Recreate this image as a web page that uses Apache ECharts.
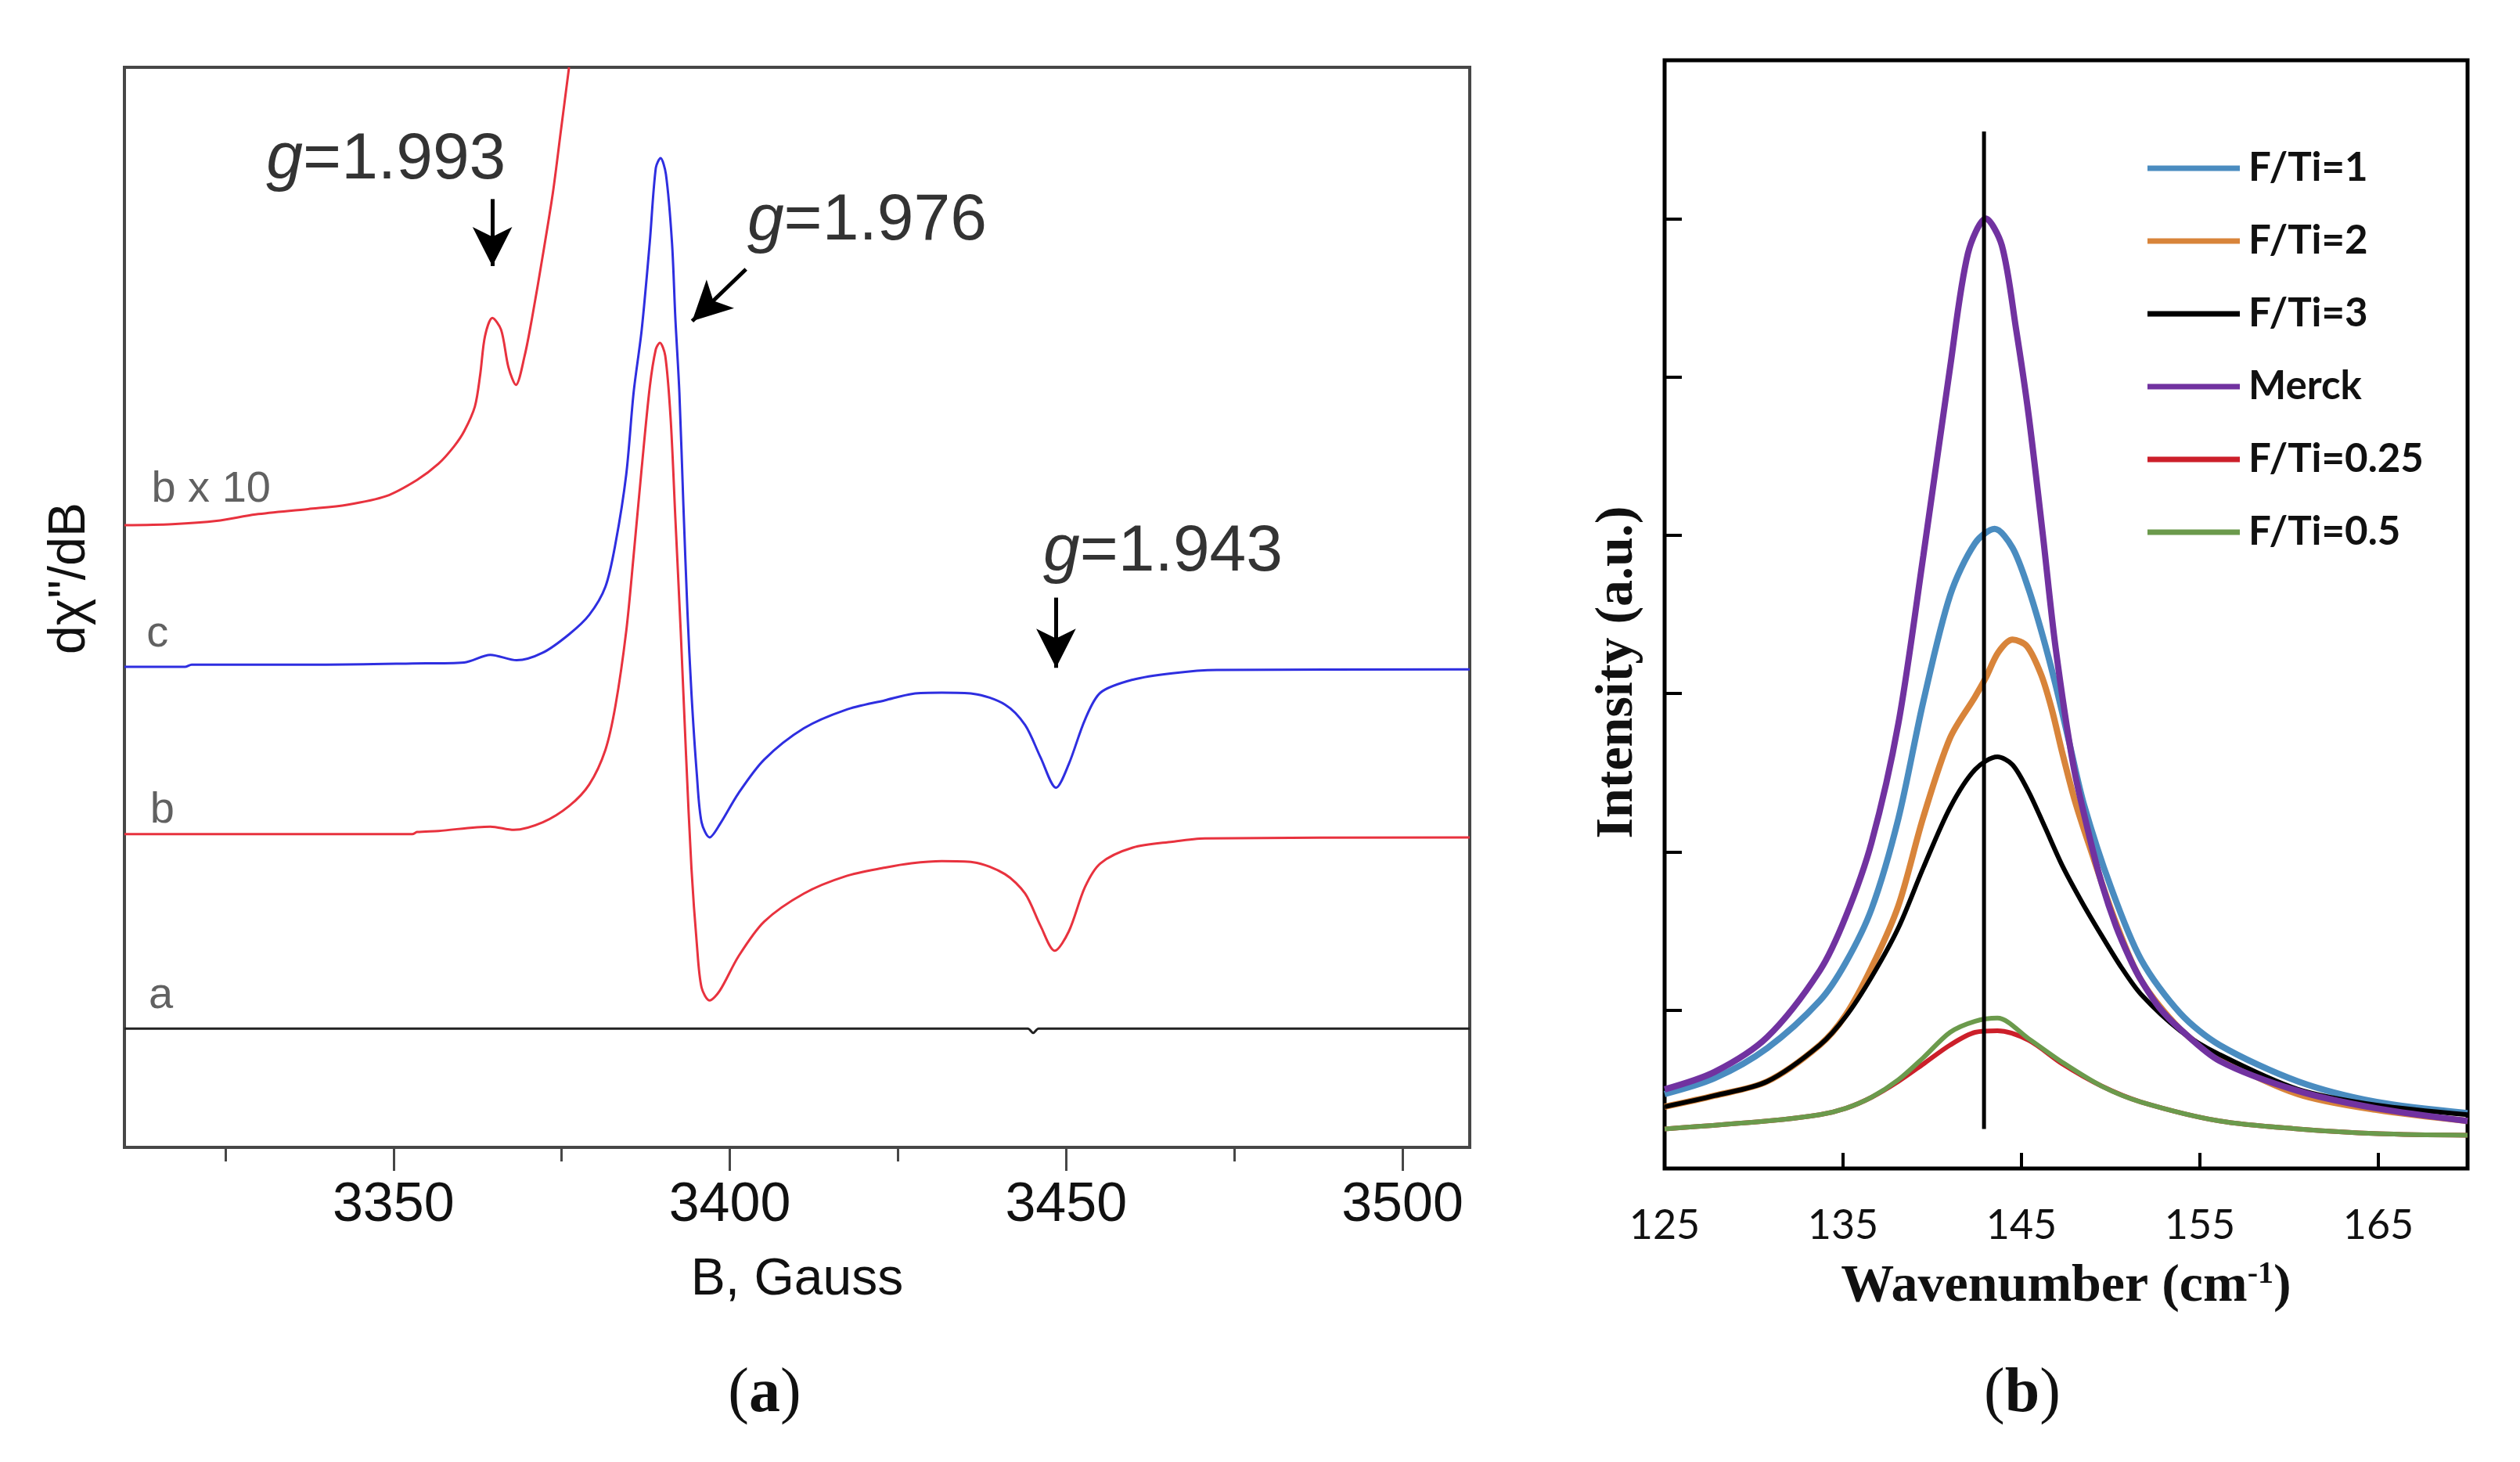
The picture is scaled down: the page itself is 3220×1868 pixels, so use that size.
<!DOCTYPE html>
<html>
<head>
<meta charset="utf-8">
<title>EPR and Raman spectra</title>
<script src="https://cdn.jsdelivr.net/npm/echarts@6/dist/echarts.min.js"></script>
<style>
  html, body { margin: 0; padding: 0; background: #fff; }
  #app { width: 3220px; height: 1868px; }
</style>
</head>
<body>
<div id="app"></div>
<script>
// ---- (a) EPR spectra: [B (Gauss), signal in offset units 0..100] ----
const eprTicks = [3350, 3400, 3450, 3500];
const eprMinorTicks = [3325, 3375, 3425, 3475];

const eprBx10 = [
  [3310, 57.6], [3317.1, 57.7], [3323.7, 58.0], [3329.5, 58.6], [3337.3, 59.1],
  [3343.1, 59.5], [3348.9, 60.3], [3353.5, 61.8], [3356.7, 63.3], [3359.0, 64.9],
  [3360.5, 66.3], [3362.1, 68.6], [3362.9, 71.6], [3363.6, 75.1], [3364.7, 76.8],
  [3366.0, 75.7], [3367.1, 72.2], [3368.2, 70.6], [3369.5, 73.3], [3370.6, 76.8],
  [3372.2, 82.6], [3373.7, 88.4], [3374.9, 94.2], [3376.1, 100]
];

const eprC = [
  [3310, 44.5], [3319, 44.5], [3320, 44.7], [3340, 44.7], [3352.8, 44.8],
  [3360.5, 44.9], [3364.4, 45.6], [3368.3, 45.1], [3372.2, 45.8], [3376.1, 47.5],
  [3379.1, 49.3], [3381.5, 51.9], [3383.0, 55.9], [3384.6, 62.3], [3385.7, 69.9],
  [3386.9, 75.7], [3388.1, 83.8], [3389.0, 90.7], [3389.7, 91.6], [3390.5, 90.1],
  [3391.4, 83.8], [3391.9, 76.8], [3392.5, 69.9], [3393.1, 59.4], [3393.7, 49.6],
  [3394.3, 42.0], [3395.1, 34.5], [3395.8, 30.1], [3397.0, 28.7], [3398.5, 29.9],
  [3401.3, 32.8], [3405.1, 35.9], [3411.0, 38.8], [3417.2, 40.5], [3423.1, 41.4],
  [3427.2, 42.0], [3431.5, 42.1], [3436.2, 42.0], [3440.9, 41.0], [3443.9, 39.1], [3446.2, 36.1],
  [3448.5, 33.3], [3450.4, 35.5], [3452.8, 39.6], [3455.1, 42.1], [3459.9, 43.3],
  [3465.8, 43.9], [3472.4, 44.2], [3510, 44.25]
];

const eprB = [
  [3310, 29.0], [3352.8, 29.0], [3353.5, 29.2], [3356.7, 29.3], [3364.4, 29.7],
  [3367.9, 29.4], [3372.2, 30.1], [3376.1, 31.6], [3379.1, 33.6], [3381.5, 36.8],
  [3383.0, 40.9], [3384.6, 47.8], [3385.7, 54.8], [3386.9, 62.9], [3388.1, 70.4],
  [3389.0, 73.9], [3389.6, 74.5], [3390.4, 73.3], [3391.2, 67.5], [3391.9, 58.3],
  [3392.7, 47.8], [3393.5, 36.2], [3394.3, 25.8], [3395.1, 18.8], [3395.8, 14.8],
  [3397.0, 13.6], [3398.5, 14.5], [3401.3, 17.7], [3405.1, 20.9], [3411.0, 23.5],
  [3417.2, 25.1], [3423.1, 25.9], [3427.0, 26.3], [3431.5, 26.5], [3436.2, 26.4], [3440.9, 25.3],
  [3443.9, 23.5], [3446.2, 20.5], [3448.3, 18.2], [3450.4, 20.0], [3452.8, 24.1],
  [3455.1, 26.3], [3459.9, 27.75], [3465.8, 28.3], [3470.6, 28.6], [3510, 28.7]
];

const eprA = [[3310, 11.0], [3444.3, 11.0], [3445.1, 10.6], [3445.9, 11.0], [3510, 11.0]];

// curve letters and g-value annotations, in data coordinates
const eprCurveLabels = [['b x 10', 3314.0, 60.9], ['c', 3313.3, 47.5], ['b', 3313.8, 31.2], ['a', 3313.6, 14.0]];
const gLabels = [['1.993', 3331.1, 91.4], ['1.976', 3402.6, 85.7], ['1.943', 3446.6, 55.1]];
const gArrows = [
  [[3364.7, 87.8], [3364.7, 81.6]],
  [[3402.4, 81.3], [3394.4, 76.5]],
  [[3448.5, 50.9], [3448.5, 44.4]]
];

// ---- (b) Raman spectra: [wavenumber (cm-1), intensity a.u.] ----
const ramanTicks = [135, 145, 155, 165];
const ramanLabels = [125, 135, 145, 155, 165];
const ramanYTicks = [1, 2, 3, 4, 5, 6];

const ftI1 = [
  [125, 0.47], [127.8, 0.57], [130.75, 0.76], [133.7, 1.06], [135.15, 1.30], [136.6, 1.64],
  [138.1, 2.21], [139.5, 2.95], [141.0, 3.62], [142.4, 3.95], [143.5, 4.04], [144.5, 3.92],
  [145.4, 3.66], [146.2, 3.36], [146.9, 3.06], [147.7, 2.68], [148.5, 2.30], [150, 1.78], [151.7, 1.32],
  [153.9, 0.98], [156.1, 0.78], [160.5, 0.55], [164.9, 0.42], [170, 0.35]
];
const ftI2 = [
  [125, 0.39], [127.8, 0.46], [130.75, 0.55], [133.7, 0.78], [135.15, 0.97], [136.6, 1.27],
  [138.1, 1.66], [139.5, 2.22], [141.0, 2.72], [142.4, 2.98], [143.0, 3.10], [143.7, 3.26],
  [144.5, 3.34], [145.3, 3.30], [146.1, 3.12], [146.7, 2.90], [147.3, 2.62], [148.0, 2.32], [148.8, 2.04], [150.3, 1.55],
  [151.7, 1.19], [153.9, 0.88], [156.1, 0.70], [160.5, 0.47], [164.9, 0.37], [170, 0.30]
];
const ftI3 = [
  [125, 0.39], [127.8, 0.46], [130.75, 0.55], [133.7, 0.78], [135.15, 0.96], [136.6, 1.21],
  [138.1, 1.52], [139.5, 1.90], [141.0, 2.28], [142.4, 2.52], [143.65, 2.60], [144.5, 2.55],
  [145.4, 2.38], [146.3, 2.16], [147.3, 1.91], [148.4, 1.68], [149.5, 1.47], [150.6, 1.27], [151.7, 1.10], [153.9, 0.87],
  [156.1, 0.72], [160.5, 0.50], [164.9, 0.40], [170, 0.34]
];
const merck = [
  [125, 0.50], [127.8, 0.61], [130.75, 0.83], [133.7, 1.25], [135.15, 1.59], [136.6, 2.06],
  [138.1, 2.81], [139.5, 3.87], [141.0, 5.06], [142.0, 5.78], [143.0, 6.00], [143.9, 5.83],
  [144.7, 5.30], [145.4, 4.76], [146.2, 4.00], [146.9, 3.30], [147.9, 2.55], [148.8, 2.10],
  [149.5, 1.80], [150.3, 1.53], [151.1, 1.32], [151.7, 1.19], [152.7, 1.02], [153.9, 0.88],
  [156.1, 0.68], [160.5, 0.49], [164.9, 0.38], [170, 0.30]
];
const ftI025 = [
  [125, 0.25], [130.75, 0.30], [133.7, 0.34], [135.15, 0.38], [136.6, 0.45], [138.1, 0.55],
  [139.5, 0.66], [141.0, 0.78], [142.4, 0.86], [143.65, 0.87], [145.4, 0.81], [147.3, 0.66],
  [149.5, 0.52], [151.7, 0.42], [156.1, 0.30], [160.5, 0.25], [165, 0.22], [170, 0.21]
];
const ftI05 = [
  [125, 0.25], [130.75, 0.30], [133.7, 0.34], [135.15, 0.38], [136.6, 0.45], [138.1, 0.56],
  [139.5, 0.70], [141.0, 0.86], [142.4, 0.93], [143.65, 0.95], [145.4, 0.82], [147.3, 0.67],
  [149.5, 0.52], [151.7, 0.42], [156.1, 0.30], [160.5, 0.25], [165, 0.22], [170, 0.21]
];
const refLine = [[142.9, 0.25], [142.9, 6.55]];

const ramanNames = ['F/Ti=1', 'F/Ti=2', 'F/Ti=3', 'Merck', 'F/Ti=0.25', 'F/Ti=0.5'];
const ramanData = [ftI1, ftI2, ftI3, merck, ftI025, ftI05];
const ramanColors = ['#4a8cc0', '#d8843a', '#000000', '#7132a0', '#cc1f2a', '#6b9a4c'];
const ramanWidths = [8, 8, 6, 8, 6, 6];

const RED = '#e8323e';
const BLUE = '#2e2ee0';
const SANS = 'Liberation Sans';
const SERIF = 'Liberation Serif';

const eprLine = (name, data, color) => ({
  name, type: 'line', xAxisIndex: 0, yAxisIndex: 0, data,
  symbol: 'none', smooth: 0.3, silent: true,
  lineStyle: { color, width: 3 }, itemStyle: { color }
});

const option = {
  animation: false,
  backgroundColor: '#fff',
  grid: [
    { left: 159, top: 86, width: 1719, height: 1380, show: true, borderColor: '#474747', borderWidth: 4 },
    { left: 2127, top: 77, width: 1026, height: 1416, show: true, borderColor: '#000', borderWidth: 5 }
  ],
  legend: {
    data: ramanNames,
    orient: 'vertical',
    left: 2739,
    top: 180,
    icon: 'rect',
    itemWidth: 118,
    itemHeight: 7,
    itemGap: 33,
    selectedMode: false,
    textStyle: { fontFamily: 'Lato', fontWeight: 'bold', fontSize: 51, lineHeight: 60, color: '#111', padding: [0, 0, 0, 6] }
  },
  xAxis: [
    {
      gridIndex: 0, type: 'value', min: 3310, max: 3510,
      axisLine: { show: true, onZero: false, lineStyle: { color: '#474747', width: 4 } },
      axisTick: { show: true, customValues: eprTicks, length: 30, lineStyle: { color: '#474747', width: 3 } },
      axisLabel: { customValues: eprTicks, formatter: v => String(v), margin: 40, fontSize: 70, fontFamily: SANS, color: '#111' },
      splitLine: { show: false },
      name: 'B, Gauss', nameLocation: 'middle', nameGap: 137,
      nameTextStyle: { fontSize: 66, fontFamily: SANS, color: '#111' }
    },
    {
      gridIndex: 0, type: 'value', min: 3310, max: 3510, position: 'bottom',
      axisLine: { show: false },
      axisTick: { show: true, customValues: eprMinorTicks, length: 18, lineStyle: { color: '#474747', width: 3 } },
      axisLabel: { show: false },
      splitLine: { show: false }
    },
    {
      gridIndex: 1, type: 'value', min: 125, max: 170,
      axisLine: { show: false },
      axisTick: { show: true, inside: true, customValues: ramanTicks, length: 20, lineStyle: { color: '#000', width: 4 } },
      axisLabel: { customValues: ramanLabels, formatter: v => String(v), margin: 47, fontSize: 52, fontFamily: 'Lato', color: '#111' },
      splitLine: { show: false },
      name: 'Wavenumber (cm{sup|-1})', nameLocation: 'middle', nameGap: 116,
      nameTextStyle: {
        fontSize: 68, fontFamily: SERIF, fontWeight: 'bold', color: '#111',
        rich: { sup: { fontSize: 40, fontFamily: SERIF, fontWeight: 'bold', color: '#111', verticalAlign: 'top', padding: [0, 0, 30, 0] } }
      }
    }
  ],
  yAxis: [
    {
      gridIndex: 0, type: 'value', min: 0, max: 100,
      axisLine: { show: false }, axisTick: { show: false }, axisLabel: { show: false }, splitLine: { show: false }
    },
    {
      gridIndex: 1, type: 'value', min: 0, max: 7,
      axisLine: { show: false },
      axisTick: { show: true, inside: true, customValues: ramanYTicks, length: 22, lineStyle: { color: '#000', width: 4 } },
      axisLabel: { show: false }, splitLine: { show: false }
    }
  ],
  series: [
    eprLine('b x 10', eprBx10, RED),
    eprLine('c', eprC, BLUE),
    eprLine('b', eprB, RED),
    eprLine('a', eprA, '#222'),
    {
      type: 'scatter', xAxisIndex: 0, yAxisIndex: 0, silent: true, symbolSize: 0,
      itemStyle: { color: 'rgba(0,0,0,0)' },
      data: eprCurveLabels.map(([t, x, y]) => ({ name: t, value: [x, y] })),
      label: { show: true, position: 'right', distance: 0, formatter: '{b}', fontSize: 56, fontFamily: SANS, color: '#3a3a3a' }
    },
    {
      type: 'scatter', xAxisIndex: 0, yAxisIndex: 0, silent: true, symbolSize: 0,
      itemStyle: { color: 'rgba(0,0,0,0)' },
      data: gLabels.map(([t, x, y]) => ({ name: t, value: [x, y] })),
      label: {
        show: true, position: 'right', distance: 0, color: '#000', fontSize: 84, fontFamily: SANS,
        formatter: p => '{i|g}{n|=' + p.name + '}',
        rich: {
          i: { fontStyle: 'italic', fontSize: 84, fontFamily: SANS, color: '#000' },
          n: { fontSize: 84, fontFamily: SANS, color: '#000' }
        }
      },
      markLine: {
        silent: true,
        symbol: ['none', 'arrow'],
        symbolSize: [38, 50],
        lineStyle: { color: '#000', width: 5, type: 'solid' },
        label: { show: false },
        data: gArrows.map(([p, q]) => [{ coord: p }, { coord: q }])
      }
    },
    ...ramanNames.map((name, i) => ({
      name, type: 'line', xAxisIndex: 2, yAxisIndex: 1, data: ramanData[i],
      symbol: 'none', smooth: 0.3, silent: true,
      lineStyle: { color: ramanColors[i], width: ramanWidths[i] },
      itemStyle: { color: ramanColors[i] }
    })),
    {
      type: 'line', xAxisIndex: 2, yAxisIndex: 1, data: refLine, symbol: 'none', silent: true,
      lineStyle: { color: '#000', width: 5 }, itemStyle: { color: '#000' }
    }
  ],
  graphic: [
    {
      type: 'text', x: 90, y: 739, rotation: Math.PI / 2,
      style: { text: 'dχ"/dB', font: '66px "Liberation Sans"', fill: '#111', align: 'center', verticalAlign: 'middle' }
    },
    {
      type: 'text', x: 2067, y: 859, rotation: Math.PI / 2,
      style: { text: 'Intensity (a.u.)', font: 'bold 68px "Liberation Serif"', fill: '#111', align: 'center', verticalAlign: 'middle' }
    },
    {
      type: 'text', x: 977, y: 1782,
      style: {
        text: '{p|(}{b|a}{p|)}', align: 'center', verticalAlign: 'middle',
        rich: {
          p: { font: '80px "Liberation Serif"', fill: '#111' },
          b: { font: 'bold 80px "Liberation Serif"', fill: '#111' }
        }
      }
    },
    {
      type: 'text', x: 2584, y: 1782,
      style: {
        text: '{p|(}{b|b}{p|)}', align: 'center', verticalAlign: 'middle',
        rich: {
          p: { font: '80px "Liberation Serif"', fill: '#111' },
          b: { font: 'bold 80px "Liberation Serif"', fill: '#111' }
        }
      }
    }
  ]
};

const chart = echarts.init(document.getElementById('app'));
chart.setOption(option);
</script>
</body>
</html>
